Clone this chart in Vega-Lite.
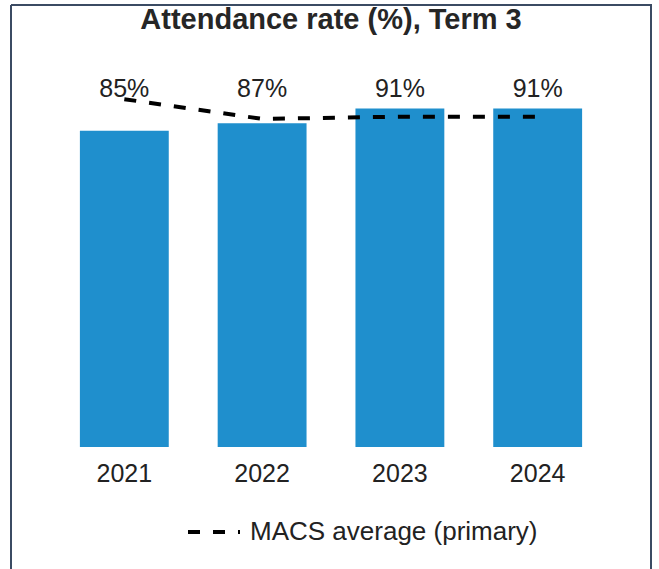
{
  "$schema": "https://vega.github.io/schema/vega-lite/v6.json",
  "width": 640,
  "height": 564,
  "autosize": {"type": "none"},
  "padding": {"left": 11, "top": 5, "right": 8, "bottom": 0},
  "background": "white",
  "title": {
    "text": "Attendance rate (%), Term 3",
    "anchor": "middle",
    "frame": "group",
    "orient": "top",
    "offset": -53,
    "baseline": "alphabetic",
    "fontSize": 29,
    "font": "Liberation Sans",
    "fontWeight": "bold",
    "color": "#262626"
  },
  "config": {
    "view": {"stroke": "#3b4b63", "strokeWidth": 2, "strokeDash": [1204, 640, 564, 0]},
    "font": "Liberation Sans"
  },
  "data": {
    "values": [
      {"year": "2021", "rate": 85, "label": "85%", "macs": 93.5},
      {"year": "2022", "rate": 87, "label": "87%", "macs": 88.2},
      {"year": "2023", "rate": 91, "label": "91%", "macs": 88.8},
      {"year": "2024", "rate": 91, "label": "91%", "macs": 88.8}
    ]
  },
  "encoding": {
    "x": {
      "field": "year",
      "type": "nominal",
      "sort": null,
      "scale": {"paddingInner": 0.355, "paddingOuter": 0.5},
      "axis": {
        "title": null,
        "orient": "bottom",
        "offset": -122,
        "domain": false,
        "ticks": false,
        "grid": false,
        "labelAngle": 0,
        "labelFontSize": 25,
        "labelColor": "#222222",
        "labelPadding": 14,
        "labelFont": "Liberation Sans"
      }
    }
  },
  "layer": [
    {
      "mark": {"type": "bar", "color": "#1f8fcd"},
      "encoding": {
        "y": {
          "field": "rate",
          "type": "quantitative",
          "scale": {"domain": [-32.8, 118.82], "nice": false, "zero": false},
          "axis": null
        },
        "y2": {"datum": 0}
      }
    },
    {
      "mark": {"type": "line", "strokeDash": [12, 13], "strokeWidth": 4},
      "encoding": {
        "y": {"field": "macs", "type": "quantitative"},
        "stroke": {
          "datum": "MACS average (primary)",
          "type": "nominal",
          "scale": {"range": ["#000000"]},
          "legend": {
            "title": null,
            "orient": "none",
            "legendX": 175,
            "legendY": 499,
            "symbolType": "stroke",
            "symbolSize": 2704,
            "symbolStrokeWidth": 4,
            "symbolDash": [12, 13],
            "labelFontSize": 26,
            "labelColor": "#222222",
            "labelFont": "Liberation Sans",
            "labelOffset": 8,
            "padding": 0,
            "labelLimit": 400
          }
        }
      }
    },
    {
      "mark": {"type": "text", "fontSize": 25, "baseline": "alphabetic", "color": "#222222", "font": "Liberation Sans"},
      "encoding": {
        "y": {"datum": 94, "type": "quantitative"},
        "text": {"field": "label", "type": "nominal"}
      }
    }
  ]
}
